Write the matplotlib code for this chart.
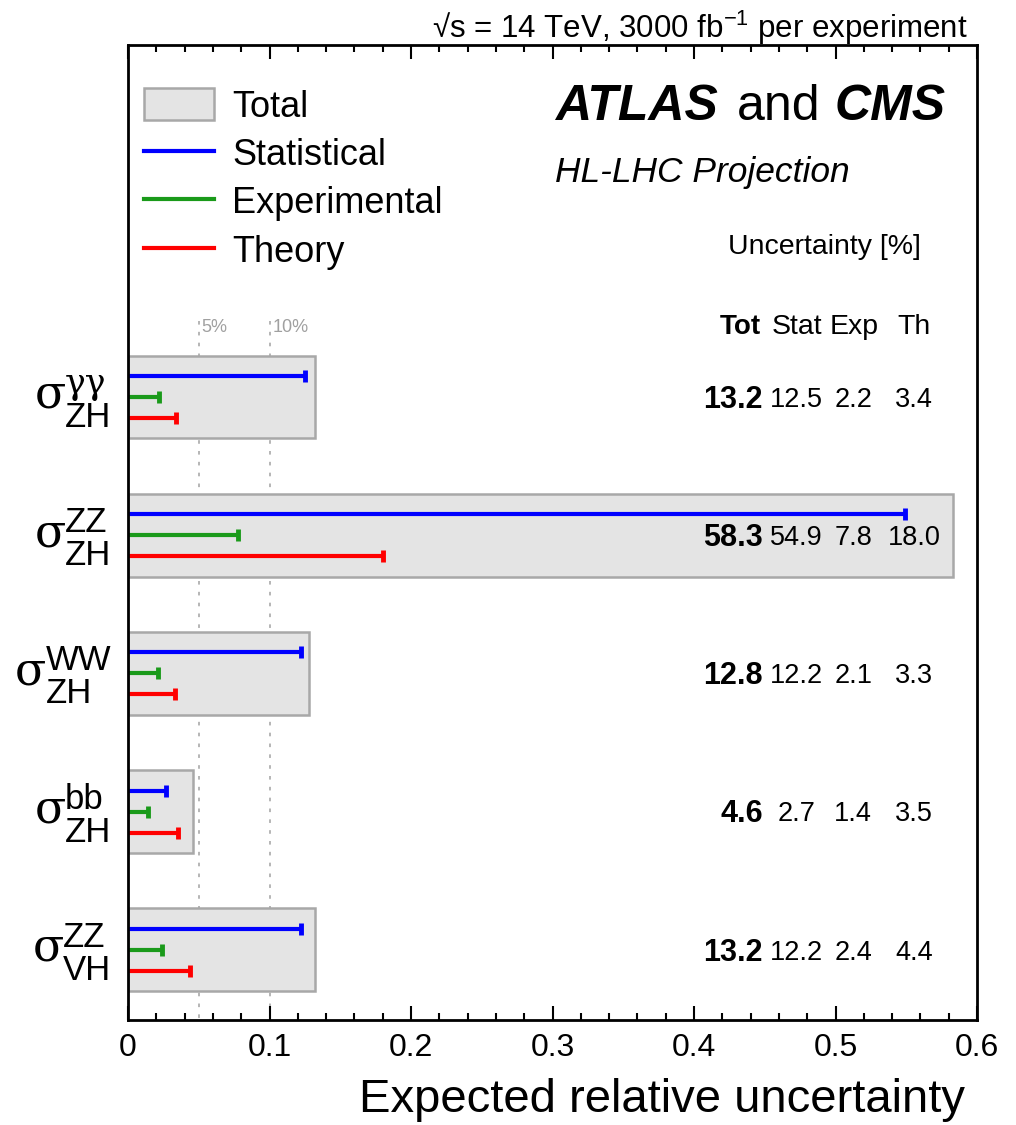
import matplotlib
matplotlib.use("Agg")
import matplotlib.pyplot as plt
import matplotlib.transforms as mtransforms
from matplotlib.patches import Patch
from matplotlib.lines import Line2D
from matplotlib.ticker import MultipleLocator

plt.rcParams['font.family'] = ['Liberation Sans', 'DejaVu Sans']
plt.rcParams['mathtext.fontset'] = 'custom'
plt.rcParams['mathtext.rm'] = 'Liberation Sans'
plt.rcParams['mathtext.it'] = 'Liberation Sans:italic'

# channels (top to bottom)
sup_labels = ['γγ', 'ZZ', 'WW', 'bb', 'ZZ']
sub_labels = ['ZH', 'ZH', 'ZH', 'ZH', 'VH']

# expected uncertainties in %
tot = [13.2, 58.3, 12.8, 4.6, 13.2]
stat = [12.5, 54.9, 12.2, 2.7, 12.2]
exp = [2.2, 7.8, 2.1, 1.4, 2.4]
th = [3.4, 18.0, 3.3, 3.5, 4.4]

guide_lines = [0.05, 0.10]
guide_labels = ['5%', '10%']

C_BOX = '#e4e4e4'
C_EDGE = '#a8a8a8'
C_STAT = '#0000ff'
C_EXP = '#1a9a1a'
C_TH = '#ff0000'

W, H = 1016, 1125
fig = plt.figure(figsize=(W / 100, H / 100), dpi=100)
ax = fig.add_axes([128 / W, 1 - 1020 / H, (977 - 128) / W, (1020 - 45) / H])

ROW = 138.2  # px per row
ax.set_xlim(0, 0.6)
ax.set_ylim((1020 - 397) / ROW, -(397 - 45) / ROW)

rows = list(range(len(tot)))
dy = 21 / ROW

# guide lines
for g, gl in zip(guide_lines, guide_labels):
    ax.vlines(g, -0.55, 5, colors='#b0b0b0', linestyles=(0, (2, 4)), lw=1.3, zorder=0)
    ax.text(g + 0.002, -0.5, gl, color='#a0a0a0', fontsize=13, ha='left', va='center')

# total boxes
ax.barh(rows, [t / 100 for t in tot], height=0.6, color=C_BOX, edgecolor=C_EDGE,
        linewidth=1.8, zorder=1)

# components
for i in rows:
    for val, c, off in [(stat[i], C_STAT, -dy), (exp[i], C_EXP, 0), (th[i], C_TH, dy)]:
        ax.plot([0, val / 100], [i + off, i + off], color=c, lw=3, marker='|',
                markevery=[1], ms=8, mew=3.5, zorder=2, solid_capstyle='butt')

# value columns
x_tot, x_stat, x_exp, x_th = 0.4488, 0.4725, 0.5125, 0.5555
ax.text(0.4475, -0.507, 'Tot', fontsize=20, fontweight='bold', ha='right', va='center')
ax.text(x_stat, -0.507, 'Stat', fontsize=20.5, ha='center', va='center')
ax.text(x_exp + 0.001, -0.507, 'Exp', fontsize=20.5, ha='center', va='center')
ax.text(x_th, -0.507, 'Th', fontsize=20.5, ha='center', va='center')
for i in rows:
    y = i + 0.02
    ax.text(x_tot, y, f'{tot[i]:.1f}', fontsize=22, fontweight='bold', ha='right', va='center', zorder=3)
    ax.text(x_stat, y, f'{stat[i]:.1f}', fontsize=19.5, ha='center', va='center', zorder=3)
    ax.text(x_exp, y, f'{exp[i]:.1f}', fontsize=19.5, ha='center', va='center', zorder=3)
    ax.text(x_th, y, f'{th[i]:.1f}', fontsize=19.5, ha='center', va='center', zorder=3)

ax.text(0.492, -1.087, 'Uncertainty [%]', fontsize=20.5, ha='center', va='center')
ax.text(0.3018, -1.623, 'HL-LHC Projection', fontsize=25.5, style='italic', ha='left', va='center')
ax.text(0.3018, -2.1, 'ATLAS', fontsize=36, fontweight='bold', style='italic', ha='left', va='center')
ax.text(0.4304, -2.1, 'and', fontsize=36, ha='left', va='center')
ax.text(0.4996, -2.1, 'CMS', fontsize=36, fontweight='bold', style='italic', ha='left', va='center')

fig.text(968 / W, 1 - 28 / H, '√s = 14 TeV, 3000 fb$^{-1}$ per experiment', fontsize=22.5,
         ha='right', va='center')

# legend
handles = [Patch(facecolor=C_BOX, edgecolor=C_EDGE, linewidth=1.8),
           Line2D([], [], color=C_STAT, lw=3),
           Line2D([], [], color=C_EXP, lw=3),
           Line2D([], [], color=C_TH, lw=3)]
ax.legend(handles, ['Total', 'Statistical', 'Experimental', 'Theory'], loc='upper left',
          bbox_to_anchor=(16 / 849, (1020 - 88) / 975), frameon=False, fontsize=26,
          handlelength=1.94, handleheight=1.0, handletextpad=0.5, labelspacing=0.33,
          borderpad=0, borderaxespad=0)

# axis style
ax.set_yticks([])
ax.xaxis.set_minor_locator(MultipleLocator(0.02))
ax.tick_params(axis='x', which='both', direction='in', top=True, bottom=True, labelsize=23, pad=9)
ax.tick_params(axis='x', which='major', length=10, width=1.5)
ax.tick_params(axis='x', which='minor', length=5, width=1.5)
ax.set_xticks([0, 0.1, 0.2, 0.3, 0.4, 0.5, 0.6])
ax.set_xticklabels(['0', '0.1', '0.2', '0.3', '0.4', '0.5', '0.6'])
for s in ax.spines.values():
    s.set_linewidth(2)

ax.text((965 - 128) / 849, -0.082, 'Expected relative uncertainty', transform=ax.transAxes,
        fontsize=34, ha='right', va='center')

# y labels: sigma with stacked sup/sub, right-aligned block
renderer = fig.canvas.get_renderer()
trans = mtransforms.blended_transform_factory(fig.transFigure, ax.transData)
right_px = 111
for i in rows:
    t_sup = fig.text(0, 0, sup_labels[i], fontsize=25, ha='left', va='baseline',
                     family=['DejaVu Serif'] if sup_labels[i] == 'γγ' else None)
    t_sub = fig.text(0, 0, sub_labels[i], fontsize=25, ha='left', va='baseline')
    w = max(t_sup.get_window_extent(renderer).width, t_sub.get_window_extent(renderer).width)
    x0 = (right_px - w) / W
    t_sup.set_transform(trans)
    t_sup.set_position((x0, i - 3 / ROW))
    t_sub.set_transform(trans)
    t_sub.set_position((x0, i + 30 / ROW))
    fig.text(x0 + 1 / W, i + 11 / ROW, 'σ', fontsize=33, family=['DejaVu Serif'],
             ha='right', va='baseline', transform=trans)

fig.savefig('out.png', dpi=100)
